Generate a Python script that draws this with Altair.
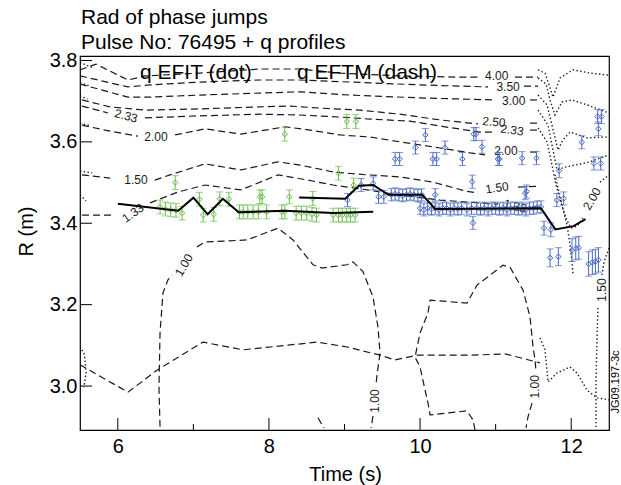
import altair as alt
import pandas as pd

# ---------------- text ----------------
title_lines = ["Rad of phase jumps", "Pulse No: 76495 + q profiles"]
legend_efit = "q EFIT (dot)"
legend_eftm = "q EFTM (dash)"
side_code = "JG09.197-3c"
x_major = [6, 8, 10, 12]
x_minor = [7, 9, 11]
y_major = [3.0, 3.2, 3.4, 3.6, 3.8]

# ---------------- q EFTM contours (dashed): segments of (time, R) ----------------
q400_eftm = [
    ([5.5, 5.712, 6.135, 6.36, 7.088, 7.882, 8.411, 8.94, 9.734, 10.528, 10.793],
     [3.777, 3.791, 3.752, 3.762, 3.769, 3.779, 3.779, 3.769, 3.762, 3.759, 3.759]),
    ([11.256, 11.561], [3.759, 3.759]),
]
q350_eftm = [
    ([5.5, 6.135, 6.426, 7.088, 7.882, 8.411, 9.073, 9.999, 10.899],
     [3.762, 3.735, 3.740, 3.747, 3.752, 3.752, 3.747, 3.740, 3.735]),
    ([11.375, 11.561], [3.737, 3.737]),
]
q300_eftm = [
    ([5.5, 6.135, 6.426, 7.088, 7.882, 8.411, 9.073, 9.999, 10.992],
     [3.742, 3.710, 3.710, 3.715, 3.720, 3.723, 3.715, 3.708, 3.703]),
    ([11.455, 11.561], [3.703, 3.703]),
]
q250_eftm = [
    ([5.526, 5.897, 6.36, 7.088, 7.882, 8.279, 8.676, 9.205, 9.734, 10.264, 10.767],
     [3.703, 3.686, 3.678, 3.681, 3.686, 3.688, 3.683, 3.678, 3.668, 3.654, 3.644]),
    ([11.455, 11.561], [3.646, 3.646]),
]
q233_eftm = [
    ([5.526, 5.871], [3.688, 3.671]),
    ([6.36, 7.088, 7.882, 8.411, 8.94, 9.338, 9.867, 10.33, 10.793, 10.992],
     [3.659, 3.664, 3.668, 3.666, 3.661, 3.656, 3.651, 3.637, 3.624, 3.624]),
    ([11.455, 11.561], [3.629, 3.629]),
]
q200_eftm = [
    ([5.526, 5.831, 6.267], [3.641, 3.629, 3.614]),
    ([6.757, 7.154, 7.631, 8.213, 8.544, 8.94, 9.338, 9.734, 10.264, 10.661, 10.859],
     [3.617, 3.632, 3.619, 3.637, 3.629, 3.617, 3.612, 3.600, 3.585, 3.573, 3.568]),
    ([11.455, 11.561], [3.575, 3.575]),
]
q150_eftm = [
    ([5.526, 5.897], [3.519, 3.511]),
    ([6.49, 6.691, 7.154, 7.631, 8.120, 8.411, 8.848, 9.298, 9.734, 10.171, 10.608, 10.767],
     [3.506, 3.519, 3.546, 3.531, 3.551, 3.543, 3.526, 3.519, 3.514, 3.501, 3.479, 3.474]),
    ([11.296, 11.561], [3.489, 3.491]),
]
q133_eftm = [
    ([5.526, 5.923], [3.420, 3.420]),
    ([6.426, 6.797, 7.154, 7.631, 8.120, 8.517, 8.848, 9.298, 9.734, 10.264, 10.793, 11.031],
     [3.450, 3.477, 3.494, 3.482, 3.519, 3.506, 3.494, 3.482, 3.469, 3.457, 3.450, 3.447]),
    ([11.481, 11.561], [3.440, 3.440]),
]
q100_left_eftm = [
    ([6.559, 6.545, 6.559, 6.598, 6.664, 6.717],
     [2.900, 2.998, 3.131, 3.229, 3.261, 3.273]),
    ([7.048, 7.154, 7.710, 8.120, 8.319, 8.583, 8.702, 9.033, 9.112, 9.245, 9.377, 9.443, 9.470, 9.430, 9.417],
     [3.342, 3.354, 3.359, 3.388, 3.359, 3.298, 3.290, 3.298, 3.305, 3.281, 3.219, 3.145, 3.081, 3.027, 3.003]),
    ([9.377, 9.351], [2.926, 2.897]),
]
q100_right_eftm = [
    ([10.727, 10.700, 10.621, 10.132, 10.105, 9.999, 9.933, 9.999, 10.105, 10.132, 10.621, 10.753,
      11.097, 11.190, 11.362, 11.455, 11.495, 11.521, 11.534],
     [2.892, 2.917, 2.939, 2.929, 2.958, 3.047, 3.071, 3.130, 3.180, 3.211, 3.204, 3.248,
      3.297, 3.292, 3.236, 3.170, 3.096, 3.064, 3.035]),
    ([11.481, 11.428, 11.402], [2.958, 2.924, 2.897]),
]
q100_low_eftm = [
    ([5.5, 6.135, 6.519, 7.127, 7.657, 8.636, 9.033, 9.470, 9.668, 9.959, 10.700, 11.124, 11.587],
     [3.052, 2.985, 3.039, 3.108, 3.089, 3.108, 3.096, 3.076, 3.064, 3.076, 3.076, 3.079, 3.057]),
    ([8.649, 8.728], [2.922, 2.897]),
]

# ---------------- q EFIT contours (dotted) ----------------
q400_efit = [([11.561, 11.653, 11.706, 11.759, 11.852, 12.024, 12.249, 12.5],
              [3.777, 3.769, 3.740, 3.710, 3.757, 3.777, 3.769, 3.764]),
             ([5.5, 5.66], [3.795, 3.783])]
q350_efit = [([11.561, 11.667, 11.719, 11.785, 11.878, 12.010, 12.209, 12.5],
              [3.757, 3.742, 3.703, 3.666, 3.698, 3.703, 3.691, 3.671]),
             ([5.5, 5.62], [3.745, 3.738])]
q300_efit = [([11.561, 11.680, 11.746, 11.825, 11.891, 11.984, 12.209, 12.5],
              [3.715, 3.691, 3.641, 3.580, 3.605, 3.624, 3.610, 3.612]),
             ([5.5, 5.6], [3.713, 3.705])]
q233_efit = [([11.561, 11.693, 11.759, 11.812, 11.918, 12.050, 12.249, 12.5],
              [3.678, 3.641, 3.580, 3.531, 3.538, 3.543, 3.551, 3.568]),
             ([5.5, 5.64], [3.645, 3.640])]
q200_efit = [([11.561, 11.680, 11.746, 11.799, 11.865, 11.931, 11.997, 12.077, 12.156],
              [3.634, 3.600, 3.543, 3.494, 3.450, 3.413, 3.388, 3.393, 3.413]),
             ([12.381, 12.5], [3.501, 3.519]),
             ([11.785, 11.878, 11.944, 11.984, 12.010, 12.024],
              [3.519, 3.445, 3.396, 3.347, 3.305, 3.273])]
q150_efit = [([12.5, 12.434, 12.407], [3.339, 3.305, 3.273]),
             ([12.354, 12.341, 12.328, 12.328], [3.192, 3.113, 3.015, 2.897]),
             ([5.5, 5.66], [3.528, 3.524])]
q133_efit = [([5.5, 5.58], [3.470, 3.455])]
q100_efit = [([11.587, 11.653, 11.693, 11.812, 11.984, 12.077, 12.209, 12.341, 12.5],
              [3.118, 3.089, 3.010, 3.032, 3.047, 3.032, 2.990, 2.971, 2.966]),
             ([5.5, 5.56, 5.58, 5.55], [3.097, 3.077, 3.032, 2.997])]

# ---------------- contour labels ----------------
label_text = ["4.00", "3.50", "3.00", "2.50", "2.33", "2.33", "2.00", "2.00", "1.50",
              "1.50", "1.33", "1.33", "1.00", "1.00", "1.00", "2.00", "1.50"]
label_t = [11.014, 11.165, 11.240, 10.978, 11.217, 6.109, 6.506, 11.137, 6.241,
           11.018, 6.201, 11.256, 6.876, 9.404, 11.521, 12.275, 12.408]
label_r = [3.763, 3.735, 3.701, 3.649, 3.629, 3.664, 3.612, 3.578, 3.506,
           3.487, 3.425, 3.442, 3.297, 2.963, 2.998, 3.460, 3.236]
label_angle = [0, 0, 0, 5, 8, 15, 0, 0, 0, 352, 325, 15, 300, 270, 270, 300, 270]

# ---------------- black phase-jump radius lines ----------------
black_a_t = [6.0, 6.8, 7.0, 7.19, 7.39, 7.6, 8.21, 8.85, 9.38]
black_a_r = [3.448, 3.431, 3.463, 3.422, 3.46, 3.427, 3.431, 3.425, 3.428]
black_b_t = [8.4, 9.01, 9.19, 9.38, 9.58, 10.03, 10.2, 11.6, 11.79, 12.03, 12.19]
black_b_r = [3.463, 3.46, 3.492, 3.494, 3.47, 3.47, 3.435, 3.437, 3.385, 3.393, 3.41]

# ---------------- green points ----------------
green_t = [6.56, 6.63, 6.70, 6.76, 6.77, 6.85, 7.08, 7.13, 7.27, 7.35, 7.47, 7.61, 7.66,
           7.72, 7.79, 7.86, 7.88, 7.91, 7.97, 8.17, 8.21, 8.21, 8.27, 8.36, 8.43, 8.50,
           8.57, 8.58, 8.63, 8.85, 8.92, 8.92, 8.97, 9.03, 9.03, 9.08, 9.12, 9.14, 9.15]
green_r = [3.440, 3.435, 3.433, 3.500, 3.432, 3.425, 3.459, 3.420, 3.422, 3.460, 3.459,
           3.428, 3.428, 3.428, 3.428, 3.428, 3.465, 3.465, 3.428, 3.428, 3.428, 3.619,
           3.465, 3.425, 3.425, 3.425, 3.422, 3.461, 3.420, 3.420, 3.523, 3.420, 3.420,
           3.420, 3.650, 3.420, 3.494, 3.420, 3.650]
green_err = [0.017, 0.017, 0.017, 0.017, 0.017, 0.017, 0.017, 0.017, 0.017, 0.017, 0.017,
             0.017, 0.017, 0.017, 0.017, 0.017, 0.017, 0.017, 0.017, 0.017, 0.017, 0.017,
             0.017, 0.017, 0.017, 0.017, 0.017, 0.017, 0.017, 0.017, 0.017, 0.017, 0.017,
             0.017, 0.017, 0.017, 0.017, 0.017, 0.017]

# ---------------- blue points ----------------
blue_t = [9.04, 9.22, 9.38, 9.45, 9.52,
          9.62, 9.67, 9.72, 9.77, 9.82, 9.87, 9.92, 9.97, 10.02, 10.20,
          9.67, 9.73, 9.94, 10.07, 10.17, 10.22, 10.33, 10.56, 10.69, 10.71, 10.74, 10.82,
          11.03, 11.05, 11.35, 11.39, 11.41, 11.54,
          10.00, 10.05, 10.10, 10.15, 10.20, 10.25, 10.30, 10.35, 10.40, 10.45, 10.50, 10.55,
          10.62, 10.68, 10.75, 10.80, 10.85, 10.90, 10.95, 11.00, 11.05, 11.10, 11.15, 11.20,
          11.25, 11.30, 11.35, 11.40, 11.45, 11.50, 11.55, 11.60,
          10.70,
          11.64, 11.73, 11.72, 11.83, 11.81, 11.90, 11.84, 12.01, 12.06, 12.10, 12.14, 12.23,
          12.28, 12.32, 12.36, 12.30, 12.39, 12.35, 12.40, 12.36]
blue_r = [3.457, 3.494, 3.498, 3.465, 3.465,
          3.470, 3.472, 3.470, 3.468, 3.470, 3.472, 3.470, 3.468, 3.470, 3.470,
          3.558, 3.558, 3.586, 3.617, 3.558, 3.558, 3.586, 3.558, 3.502, 3.619, 3.619, 3.588,
          3.558, 3.558, 3.560, 3.474, 3.478, 3.560,
          3.437, 3.433, 3.437, 3.435, 3.437, 3.433, 3.437, 3.437, 3.433, 3.437, 3.435, 3.437,
          3.433, 3.437, 3.437, 3.435, 3.437, 3.433, 3.437, 3.437, 3.435, 3.437, 3.433, 3.437,
          3.437, 3.435, 3.437, 3.433, 3.437, 3.437, 3.440, 3.440,
          3.401,
          3.388, 3.384, 3.315, 3.318, 3.457, 3.461, 3.529, 3.334, 3.338, 3.340, 3.599, 3.300,
          3.304, 3.306, 3.310, 3.547, 3.547, 3.662, 3.662, 3.632]
blue_err = [0.016, 0.016, 0.016, 0.016, 0.016,
            0.015, 0.015, 0.015, 0.015, 0.015, 0.015, 0.015, 0.015, 0.015, 0.015,
            0.016, 0.016, 0.016, 0.016, 0.016, 0.016, 0.016, 0.016, 0.016, 0.016, 0.016, 0.016,
            0.016, 0.016, 0.016, 0.016, 0.016, 0.016,
            0.015, 0.015, 0.015, 0.015, 0.015, 0.015, 0.015, 0.015, 0.015, 0.015, 0.015, 0.015,
            0.015, 0.015, 0.015, 0.015, 0.015, 0.015, 0.015, 0.015, 0.015, 0.015, 0.015, 0.015,
            0.015, 0.015, 0.015, 0.015, 0.015, 0.015, 0.015, 0.015,
            0.016,
            0.017, 0.017, 0.022, 0.022, 0.016, 0.016, 0.017, 0.028, 0.028, 0.028, 0.016, 0.030,
            0.030, 0.030, 0.030, 0.016, 0.016, 0.017, 0.017, 0.017]

eftm_contours = [q400_eftm, q350_eftm, q300_eftm, q250_eftm, q233_eftm, q200_eftm,
                 q150_eftm, q133_eftm, q100_left_eftm, q100_right_eftm, q100_low_eftm]
efit_contours = [q400_efit, q350_efit, q300_efit, q233_efit, q200_efit, q150_efit,
                 q133_efit, q100_efit]


def seg_frame(contours, prefix):
    rows = []
    for c, segs in enumerate(contours):
        for s, (ts, rs) in enumerate(segs):
            for i, (t, r) in enumerate(zip(ts, rs)):
                rows.append({"id": f"{prefix}{c}_{s}", "i": i, "t": t, "r": r})
    return pd.DataFrame(rows)


def pts_frame(ts, rs, es):
    return pd.DataFrame({"t": ts, "r": rs,
                         "lo": [r - e for r, e in zip(rs, es)],
                         "hi": [r + e for r, e in zip(rs, es)]})


dash_df = seg_frame(eftm_contours, "d")
dot_df = seg_frame(efit_contours, "e")
lab_df = pd.DataFrame({"t": label_t, "r": label_r, "txt": label_text, "a": label_angle})
black_df = pd.concat([
    pd.DataFrame({"id": "a", "i": range(len(black_a_t)), "t": black_a_t, "r": black_a_r}),
    pd.DataFrame({"id": "b", "i": range(len(black_b_t)), "t": black_b_t, "r": black_b_r}),
])
green_df = pts_frame(green_t, green_r, green_err)
blue_df = pts_frame(blue_t, blue_r, blue_err)

W, H = 529, 374
FONT = "Liberation Sans"
GREEN = "#6cbf4e"
BLUE = "#4a6bc4"
INK = "#1a1a1a"

xs = alt.Scale(domain=[5.5, 12.5], nice=False, zero=False)
ys = alt.Scale(domain=[2.892, 3.811], nice=False, zero=False)
x_axis = alt.Axis(values=x_major, ticks=False, domain=False, grid=False, format="d",
                  labelFontSize=20, labelColor="black", labelPadding=6,
                  title="Time (s)", titleFontSize=20, titleFontWeight="normal",
                  titleColor="black", titleX=265, titleY=50, titleAlign="center",
                  titleBaseline="alphabetic")
y_axis = alt.Axis(values=y_major, ticks=False, domain=False, grid=False, format=".1f",
                  labelFontSize=20, labelColor="black", labelPadding=3,
                  title="R (m)", titleFontSize=20, titleFontWeight="normal",
                  titleColor="black", titleAngle=270, titleX=-54, titleY=175,
                  titleAlign="center", titleBaseline="middle")


def X(f="t"):
    return alt.X(f"{f}:Q", scale=xs, axis=x_axis)


def Y(f="r"):
    return alt.Y(f"{f}:Q", scale=ys, axis=y_axis)


dashed = alt.Chart(dash_df).mark_line(strokeDash=[7, 4], strokeWidth=1.2, color=INK, clip=True).encode(
    x=X(), y=Y(), detail="id:N", order="i:Q")
dotted = alt.Chart(dot_df).mark_line(strokeDash=[1.4, 2.4], strokeWidth=1.4, color=INK, clip=True).encode(
    x=X(), y=Y(), detail="id:N", order="i:Q")
labels = alt.Chart(lab_df).mark_text(font=FONT, fontSize=12, color=INK, align="center",
                                     baseline="middle").encode(
    x=X(), y=Y(), text="txt:N", angle=alt.Angle("a:Q", scale=None))


def point_layers(df, color):
    bars = alt.Chart(df).mark_rule(color=color, strokeWidth=1).encode(x=X(), y=Y("lo"), y2=alt.Y2("hi"))
    cap_lo = alt.Chart(df).mark_tick(color=color, orient="horizontal", size=7, thickness=1).encode(
        x=X(), y=Y("lo"))
    cap_hi = alt.Chart(df).mark_tick(color=color, orient="horizontal", size=7, thickness=1).encode(
        x=X(), y=Y("hi"))
    pts = alt.Chart(df).mark_point(shape="diamond", filled=False, size=30, strokeWidth=1,
                                   color=color, opacity=1).encode(x=X(), y=Y())
    return [bars, cap_lo, cap_hi, pts]


black = alt.Chart(black_df).mark_line(color="black", strokeWidth=2).encode(
    x=X(), y=Y(), detail="id:N", order="i:Q")

xt = alt.Chart(pd.DataFrame({"t": x_major})).mark_rule(color="black", strokeWidth=1).encode(
    x=X(), y=alt.value(H), y2=alt.value(H - 12))
xm = alt.Chart(pd.DataFrame({"t": x_minor})).mark_rule(color="black", strokeWidth=1).encode(
    x=X(), y=alt.value(H), y2=alt.value(H - 6))
yt = alt.Chart(pd.DataFrame({"r": y_major})).mark_rule(color="black", strokeWidth=1).encode(
    y=Y(), x=alt.value(0), x2=alt.value(12))


def txt(s, x, y, size, align="left", angle=0, baseline="alphabetic"):
    return alt.Chart(pd.DataFrame({"s": [s]})).mark_text(
        font=FONT, fontSize=size, color="black", align=align, baseline=baseline,
        angle=angle).encode(text="s:N", x=alt.value(x), y=alt.value(y))


texts = [
    txt(title_lines[0], 1, -32, 21),
    txt(title_lines[1], 1, -7, 21),
    txt(legend_efit, 60, 23, 21),
    txt(legend_eftm, 217, 23, 21),
    txt(side_code, 535.5, 326, 11, align="center", angle=270, baseline="middle"),
]

chart = alt.layer(
    dashed, dotted, labels,
    *point_layers(green_df, GREEN),
    *point_layers(blue_df, BLUE),
    black, xt, xm, yt, *texts,
).properties(
    width=W, height=H,
    autosize=alt.AutoSizeParams(type="none"),
    padding={"left": 80, "top": 56, "right": 12, "bottom": 55},
).configure(font=FONT).configure_view(stroke="black", strokeWidth=1.2)

chart.save("out.html", embed_options={"renderer": "svg", "actions": False})
